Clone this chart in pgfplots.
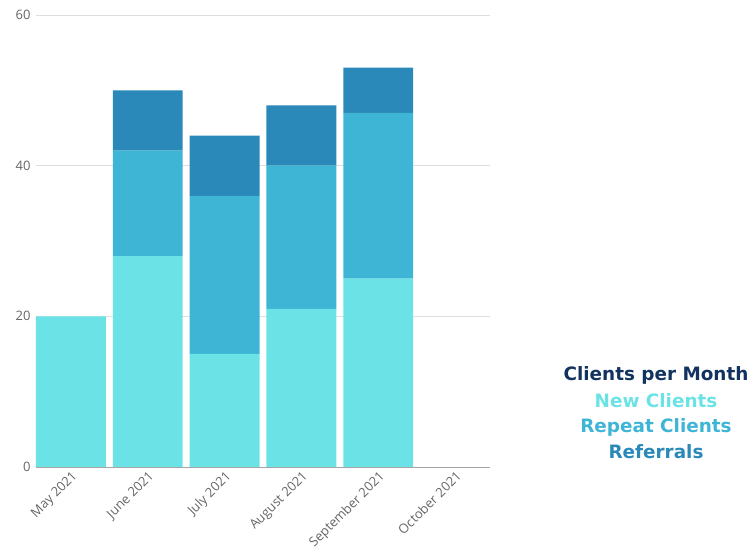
\documentclass[border=0pt]{standalone}
\usepackage{pgfplots}
\pgfplotsset{compat=1.18}
\usepackage{fontspec}
\setmainfont{Open Sans}
\newfontfamily\legfont{DejaVu Sans}
\definecolor{newc}{HTML}{6BE3E6}
\definecolor{repc}{HTML}{3EB5D4}
\definecolor{refc}{HTML}{2B89B9}
\definecolor{titc}{HTML}{13335F}
\definecolor{tickc}{HTML}{666666}
\begin{document}
\begin{tikzpicture}
\useasboundingbox (-36pt,-86pt) rectangle (718pt,467pt);
\begin{axis}[
  at={(0pt,0pt)}, anchor=south west,
  scale only axis, width=454pt, height=452pt,
  xmin=-0.455, xmax=5.455, ymin=0, ymax=60,
  ybar stacked, bar width=0.91,
  axis x line=bottom, axis y line=left,
  y axis line style={draw=none},
  x axis line style={draw=black!35, -},
  major tick length=0pt,
  ytick={0,20,40,60},
  xtick={0,1,2,3,4,5},
  xticklabels={May 2021,June 2021,July 2021,August 2021,September 2021,October 2021},
  ymajorgrids, grid style={black!13, line width=0.8pt},
  tick label style={font=\fontsize{13}{15}\selectfont, color=tickc},
  /pgf/number format/assume math mode=true,
  xticklabel style={rotate=45, anchor=north east, inner sep=2pt},
  yticklabel style={xshift=-2pt},
]
\addplot+[draw=none, fill=newc] coordinates {(0,20) (1,28) (2,15) (3,21) (4,25) (5,0)};
\addplot+[draw=none, fill=repc] coordinates {(0,0) (1,14) (2,21) (3,19) (4,22) (5,0)};
\addplot+[draw=none, fill=refc] coordinates {(0,0) (1,8) (2,8) (3,8) (4,6) (5,0)};
\end{axis}
\node[font=\legfont\bfseries\fontsize{18.4}{20}\selectfont, text=titc] at (620pt,92pt) {Clients per Month};
\node[font=\legfont\bfseries\fontsize{18.4}{20}\selectfont, text=newc] at (620pt,66pt) {New Clients};
\node[font=\legfont\bfseries\fontsize{18.4}{20}\selectfont, text=repc] at (620pt,40pt) {Repeat Clients};
\node[font=\legfont\bfseries\fontsize{18.4}{20}\selectfont, text=refc] at (620pt,15pt) {Referrals};
\end{tikzpicture}
\end{document}
